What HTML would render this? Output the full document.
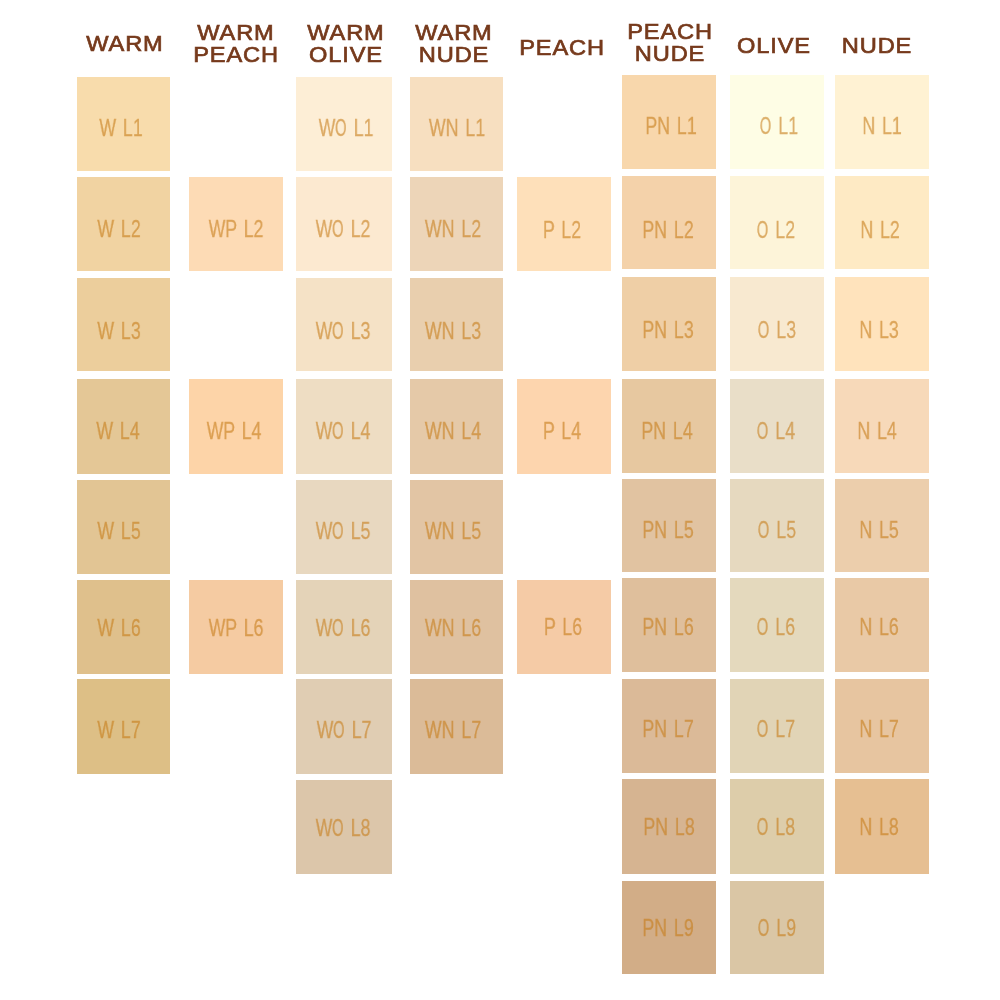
<!DOCTYPE html>
<html><head><meta charset="utf-8"><style>
html,body{margin:0;padding:0;background:#fff;width:1000px;height:1000px;overflow:hidden;position:relative}
.s{position:absolute}
.h{position:absolute;font-family:"Liberation Sans",sans-serif;font-weight:normal;color:#763a1c;-webkit-text-stroke:0.7px #763a1c;letter-spacing:0.8px;will-change:transform;white-space:nowrap;line-height:1}
.l{position:absolute;word-spacing:2.6px;will-change:transform;font-family:"Liberation Sans",sans-serif;color:rgb(198,124,24);-webkit-text-stroke:0.3px rgb(198,124,24);opacity:0.6;white-space:nowrap;line-height:1}
.o{display:inline-block;transform:scaleX(0.83);margin:0 -1.55px}
</style></head><body>

<div class="s" style="left:77px;top:77px;width:93px;height:94px;background:#f8dcac"></div>
<div class="s" style="left:77px;top:177px;width:93px;height:94px;background:#f1d3a2"></div>
<div class="s" style="left:77px;top:278px;width:93px;height:93px;background:#ecce9c"></div>
<div class="s" style="left:77px;top:379px;width:93px;height:95px;background:#e4c796"></div>
<div class="s" style="left:77px;top:480px;width:93px;height:94px;background:#e2c594"></div>
<div class="s" style="left:77px;top:580px;width:93px;height:94px;background:#dfc08c"></div>
<div class="s" style="left:77px;top:679px;width:93px;height:95px;background:#ddbf86"></div>
<div class="s" style="left:189px;top:177px;width:94px;height:94px;background:#fddbb5"></div>
<div class="s" style="left:189px;top:379px;width:94px;height:95px;background:#fdd4a8"></div>
<div class="s" style="left:189px;top:580px;width:94px;height:94px;background:#f5cba2"></div>
<div class="s" style="left:296px;top:77px;width:96px;height:94px;background:#fdeed6"></div>
<div class="s" style="left:296px;top:177px;width:96px;height:94px;background:#fce9d0"></div>
<div class="s" style="left:296px;top:278px;width:96px;height:93px;background:#f5e2c6"></div>
<div class="s" style="left:296px;top:379px;width:96px;height:95px;background:#eeddc3"></div>
<div class="s" style="left:296px;top:480px;width:96px;height:94px;background:#e8d8c0"></div>
<div class="s" style="left:296px;top:580px;width:96px;height:94px;background:#e4d3b8"></div>
<div class="s" style="left:296px;top:679px;width:96px;height:95px;background:#e0cdb3"></div>
<div class="s" style="left:296px;top:780px;width:96px;height:94px;background:#dcc6aa"></div>
<div class="s" style="left:410px;top:77px;width:93px;height:94px;background:#f7dfc0"></div>
<div class="s" style="left:410px;top:177px;width:93px;height:94px;background:#edd5b8"></div>
<div class="s" style="left:410px;top:278px;width:93px;height:93px;background:#e9cfae"></div>
<div class="s" style="left:410px;top:379px;width:93px;height:95px;background:#e5c9a8"></div>
<div class="s" style="left:410px;top:480px;width:93px;height:94px;background:#e2c5a4"></div>
<div class="s" style="left:410px;top:580px;width:93px;height:94px;background:#dfc1a0"></div>
<div class="s" style="left:410px;top:679px;width:93px;height:95px;background:#dbbb98"></div>
<div class="s" style="left:517px;top:177px;width:94px;height:94px;background:#fee0ba"></div>
<div class="s" style="left:517px;top:379px;width:94px;height:95px;background:#fdd5ae"></div>
<div class="s" style="left:517px;top:580px;width:94px;height:94px;background:#f5cba6"></div>
<div class="s" style="left:622px;top:75px;width:94px;height:94px;background:#f8d7ac"></div>
<div class="s" style="left:622px;top:176px;width:94px;height:93px;background:#f4d2aa"></div>
<div class="s" style="left:622px;top:277px;width:94px;height:94px;background:#efcfa6"></div>
<div class="s" style="left:622px;top:379px;width:94px;height:94px;background:#e7c8a0"></div>
<div class="s" style="left:622px;top:479px;width:94px;height:93px;background:#e1c3a1"></div>
<div class="s" style="left:622px;top:578px;width:94px;height:94px;background:#dfbf9c"></div>
<div class="s" style="left:622px;top:679px;width:94px;height:94px;background:#dbba98"></div>
<div class="s" style="left:622px;top:779px;width:94px;height:95px;background:#d6b491"></div>
<div class="s" style="left:622px;top:881px;width:94px;height:93px;background:#d2ad87"></div>
<div class="s" style="left:730px;top:75px;width:94px;height:94px;background:#fefde5"></div>
<div class="s" style="left:730px;top:176px;width:94px;height:93px;background:#fdf4d9"></div>
<div class="s" style="left:730px;top:277px;width:94px;height:94px;background:#f8e9d0"></div>
<div class="s" style="left:730px;top:379px;width:94px;height:94px;background:#e9dec8"></div>
<div class="s" style="left:730px;top:479px;width:94px;height:93px;background:#e6d9bf"></div>
<div class="s" style="left:730px;top:578px;width:94px;height:94px;background:#e4d9bd"></div>
<div class="s" style="left:730px;top:679px;width:94px;height:94px;background:#e1d4b6"></div>
<div class="s" style="left:730px;top:779px;width:94px;height:95px;background:#ddcdaa"></div>
<div class="s" style="left:730px;top:881px;width:94px;height:93px;background:#dac6a5"></div>
<div class="s" style="left:835px;top:75px;width:94px;height:94px;background:#fff2d3"></div>
<div class="s" style="left:835px;top:176px;width:94px;height:93px;background:#feeac4"></div>
<div class="s" style="left:835px;top:277px;width:94px;height:94px;background:#ffe3bc"></div>
<div class="s" style="left:835px;top:379px;width:94px;height:94px;background:#f7d9b9"></div>
<div class="s" style="left:835px;top:479px;width:94px;height:93px;background:#ecceac"></div>
<div class="s" style="left:835px;top:578px;width:94px;height:94px;background:#e9c9a6"></div>
<div class="s" style="left:835px;top:679px;width:94px;height:94px;background:#e7c5a0"></div>
<div class="s" style="left:835px;top:779px;width:94px;height:95px;background:#e6bf92"></div>
<div class="l" style="left:20.5px;width:200px;text-align:center;top:117.0px;font-size:23.5px;transform:scaleX(0.755)">W L1</div>
<div class="l" style="left:19.2px;width:200px;text-align:center;top:218.0px;font-size:23.5px;transform:scaleX(0.755)">W L2</div>
<div class="l" style="left:19.2px;width:200px;text-align:center;top:319.5px;font-size:23.5px;transform:scaleX(0.755)">W L3</div>
<div class="l" style="left:18.0px;width:200px;text-align:center;top:419.5px;font-size:23.5px;transform:scaleX(0.755)">W L4</div>
<div class="l" style="left:19.2px;width:200px;text-align:center;top:520.0px;font-size:23.5px;transform:scaleX(0.755)">W L5</div>
<div class="l" style="left:19.2px;width:200px;text-align:center;top:616.5px;font-size:23.5px;transform:scaleX(0.755)">W L6</div>
<div class="l" style="left:19.2px;width:200px;text-align:center;top:719.0px;font-size:23.5px;transform:scaleX(0.755)">W L7</div>
<div class="l" style="left:135.5px;width:200px;text-align:center;top:218.0px;font-size:23.5px;transform:scaleX(0.755)">WP L2</div>
<div class="l" style="left:134.2px;width:200px;text-align:center;top:419.5px;font-size:23.5px;transform:scaleX(0.755)">WP L4</div>
<div class="l" style="left:135.5px;width:200px;text-align:center;top:616.5px;font-size:23.5px;transform:scaleX(0.755)">WP L6</div>
<div class="l" style="left:245.8px;width:200px;text-align:center;top:117.0px;font-size:23.5px;transform:scaleX(0.755)">W<span class="o">O</span> L1</div>
<div class="l" style="left:243.2px;width:200px;text-align:center;top:218.0px;font-size:23.5px;transform:scaleX(0.755)">W<span class="o">O</span> L2</div>
<div class="l" style="left:243.2px;width:200px;text-align:center;top:319.5px;font-size:23.5px;transform:scaleX(0.755)">W<span class="o">O</span> L3</div>
<div class="l" style="left:242.5px;width:200px;text-align:center;top:419.5px;font-size:23.5px;transform:scaleX(0.755)">W<span class="o">O</span> L4</div>
<div class="l" style="left:243.2px;width:200px;text-align:center;top:520.0px;font-size:23.5px;transform:scaleX(0.755)">W<span class="o">O</span> L5</div>
<div class="l" style="left:243.2px;width:200px;text-align:center;top:616.5px;font-size:23.5px;transform:scaleX(0.755)">W<span class="o">O</span> L6</div>
<div class="l" style="left:244.0px;width:200px;text-align:center;top:719.0px;font-size:23.5px;transform:scaleX(0.755)">W<span class="o">O</span> L7</div>
<div class="l" style="left:243.0px;width:200px;text-align:center;top:816.5px;font-size:23.5px;transform:scaleX(0.755)">W<span class="o">O</span> L8</div>
<div class="l" style="left:356.5px;width:200px;text-align:center;top:117.0px;font-size:23.5px;transform:scaleX(0.755)">WN L1</div>
<div class="l" style="left:353.2px;width:200px;text-align:center;top:218.0px;font-size:23.5px;transform:scaleX(0.755)">WN L2</div>
<div class="l" style="left:353.2px;width:200px;text-align:center;top:319.5px;font-size:23.5px;transform:scaleX(0.755)">WN L3</div>
<div class="l" style="left:353.0px;width:200px;text-align:center;top:419.5px;font-size:23.5px;transform:scaleX(0.755)">WN L4</div>
<div class="l" style="left:353.2px;width:200px;text-align:center;top:520.0px;font-size:23.5px;transform:scaleX(0.755)">WN L5</div>
<div class="l" style="left:353.2px;width:200px;text-align:center;top:616.5px;font-size:23.5px;transform:scaleX(0.755)">WN L6</div>
<div class="l" style="left:353.2px;width:200px;text-align:center;top:719.0px;font-size:23.5px;transform:scaleX(0.755)">WN L7</div>
<div class="l" style="left:462.2px;width:200px;text-align:center;top:218.5px;font-size:23.5px;transform:scaleX(0.755)">P L2</div>
<div class="l" style="left:461.5px;width:200px;text-align:center;top:420.0px;font-size:23.5px;transform:scaleX(0.755)">P L4</div>
<div class="l" style="left:462.8px;width:200px;text-align:center;top:615.5px;font-size:23.5px;transform:scaleX(0.755)">P L6</div>
<div class="l" style="left:570.8px;width:200px;text-align:center;top:115.0px;font-size:23.5px;transform:scaleX(0.755)">PN L1</div>
<div class="l" style="left:568.2px;width:200px;text-align:center;top:218.5px;font-size:23.5px;transform:scaleX(0.755)">PN L2</div>
<div class="l" style="left:568.2px;width:200px;text-align:center;top:318.5px;font-size:23.5px;transform:scaleX(0.755)">PN L3</div>
<div class="l" style="left:566.8px;width:200px;text-align:center;top:420.0px;font-size:23.5px;transform:scaleX(0.755)">PN L4</div>
<div class="l" style="left:568.2px;width:200px;text-align:center;top:518.7px;font-size:23.5px;transform:scaleX(0.755)">PN L5</div>
<div class="l" style="left:568.2px;width:200px;text-align:center;top:615.5px;font-size:23.5px;transform:scaleX(0.755)">PN L6</div>
<div class="l" style="left:568.2px;width:200px;text-align:center;top:717.5px;font-size:23.5px;transform:scaleX(0.755)">PN L7</div>
<div class="l" style="left:568.5px;width:200px;text-align:center;top:816.0px;font-size:23.5px;transform:scaleX(0.755)">PN L8</div>
<div class="l" style="left:568.2px;width:200px;text-align:center;top:917.0px;font-size:23.5px;transform:scaleX(0.755)">PN L9</div>
<div class="l" style="left:679.2px;width:200px;text-align:center;top:115.0px;font-size:23.5px;transform:scaleX(0.755)"><span class="o">O</span> L1</div>
<div class="l" style="left:675.5px;width:200px;text-align:center;top:218.5px;font-size:23.5px;transform:scaleX(0.755)"><span class="o">O</span> L2</div>
<div class="l" style="left:676.5px;width:200px;text-align:center;top:318.5px;font-size:23.5px;transform:scaleX(0.755)"><span class="o">O</span> L3</div>
<div class="l" style="left:675.5px;width:200px;text-align:center;top:420.0px;font-size:23.5px;transform:scaleX(0.755)"><span class="o">O</span> L4</div>
<div class="l" style="left:676.5px;width:200px;text-align:center;top:518.7px;font-size:23.5px;transform:scaleX(0.755)"><span class="o">O</span> L5</div>
<div class="l" style="left:676.0px;width:200px;text-align:center;top:615.5px;font-size:23.5px;transform:scaleX(0.755)"><span class="o">O</span> L6</div>
<div class="l" style="left:676.0px;width:200px;text-align:center;top:717.5px;font-size:23.5px;transform:scaleX(0.755)"><span class="o">O</span> L7</div>
<div class="l" style="left:676.2px;width:200px;text-align:center;top:816.0px;font-size:23.5px;transform:scaleX(0.755)"><span class="o">O</span> L8</div>
<div class="l" style="left:676.8px;width:200px;text-align:center;top:917.0px;font-size:23.5px;transform:scaleX(0.755)"><span class="o">O</span> L9</div>
<div class="l" style="left:781.5px;width:200px;text-align:center;top:115.0px;font-size:23.5px;transform:scaleX(0.755)">N L1</div>
<div class="l" style="left:779.5px;width:200px;text-align:center;top:218.5px;font-size:23.5px;transform:scaleX(0.755)">N L2</div>
<div class="l" style="left:778.5px;width:200px;text-align:center;top:318.5px;font-size:23.5px;transform:scaleX(0.755)">N L3</div>
<div class="l" style="left:776.8px;width:200px;text-align:center;top:420.0px;font-size:23.5px;transform:scaleX(0.755)">N L4</div>
<div class="l" style="left:778.5px;width:200px;text-align:center;top:518.7px;font-size:23.5px;transform:scaleX(0.755)">N L5</div>
<div class="l" style="left:778.8px;width:200px;text-align:center;top:615.5px;font-size:23.5px;transform:scaleX(0.755)">N L6</div>
<div class="l" style="left:778.5px;width:200px;text-align:center;top:717.5px;font-size:23.5px;transform:scaleX(0.755)">N L7</div>
<div class="l" style="left:779.0px;width:200px;text-align:center;top:816.0px;font-size:23.5px;transform:scaleX(0.755)">N L8</div>
<div class="h" style="left:24.9px;width:200px;text-align:center;top:32.6px;font-size:22.5px;transform:scaleX(1.05)">WARM</div>
<div class="h" style="left:136.4px;width:200px;text-align:center;top:21.6px;font-size:22.5px;transform:scaleX(1.05)">WARM</div>
<div class="h" style="left:136.4px;width:200px;text-align:center;top:43.6px;font-size:22.5px;transform:scaleX(1.05)">PEACH</div>
<div class="h" style="left:245.9px;width:200px;text-align:center;top:21.6px;font-size:22.5px;transform:scaleX(1.05)">WARM</div>
<div class="h" style="left:245.9px;width:200px;text-align:center;top:43.6px;font-size:22.5px;transform:scaleX(1.05)">OLIVE</div>
<div class="h" style="left:353.9px;width:200px;text-align:center;top:21.6px;font-size:22.5px;transform:scaleX(1.05)">WARM</div>
<div class="h" style="left:353.9px;width:200px;text-align:center;top:43.6px;font-size:22.5px;transform:scaleX(1.05)">NUDE</div>
<div class="h" style="left:462.4px;width:200px;text-align:center;top:36.6px;font-size:22.5px;transform:scaleX(1.05)">PEACH</div>
<div class="h" style="left:569.9px;width:200px;text-align:center;top:21.1px;font-size:22.5px;transform:scaleX(1.05)">PEACH</div>
<div class="h" style="left:569.9px;width:200px;text-align:center;top:43.1px;font-size:22.5px;transform:scaleX(1.05)">NUDE</div>
<div class="h" style="left:674.4px;width:200px;text-align:center;top:34.6px;font-size:22.5px;transform:scaleX(1.05)">OLIVE</div>
<div class="h" style="left:777.4px;width:200px;text-align:center;top:34.6px;font-size:22.5px;transform:scaleX(1.05)">NUDE</div>
</body></html>
